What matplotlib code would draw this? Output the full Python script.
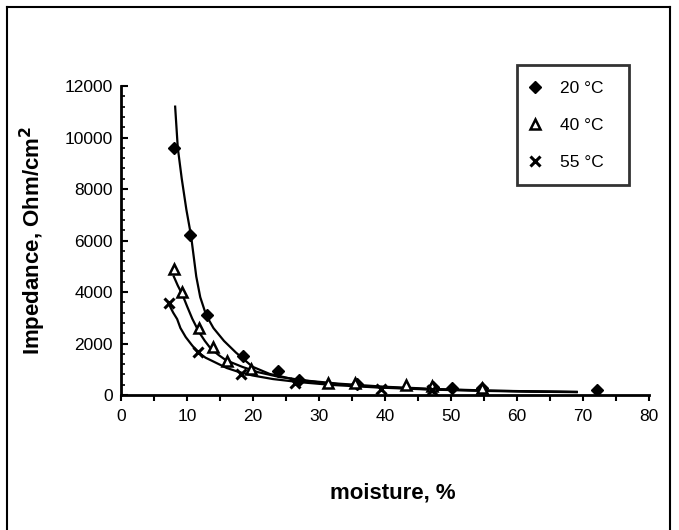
import matplotlib
matplotlib.use('Agg')
import matplotlib.pyplot as plt
from matplotlib.lines import Line2D

plt.rcParams['font.family'] = ['Liberation Sans', 'DejaVu Sans']

# measured points
x20 = [8.0, 10.5, 13.0, 18.5, 23.8, 27.0, 35.8, 47.3, 50.2, 54.7, 72.1]
y20 = [9600, 6220, 3100, 1520, 930, 600, 420, 330, 280, 270, 190]
x40 = [8.0, 9.3, 11.8, 13.9, 16.1, 19.7, 31.4, 35.4, 43.2, 47.1, 54.7]
y40 = [4880, 4010, 2620, 1860, 1330, 1020, 480, 470, 400, 340, 290]
x55 = [7.3, 11.6, 18.2, 26.4, 39.3, 47.1]
y55 = [3580, 1680, 820, 470, 250, 190]

# fitted curves
cx20 = [8.2, 8.6, 9.2, 9.9, 10.6, 11.0, 11.4, 12.0, 12.9, 14.0, 15.6, 17.4, 19.9,
        22.5, 26, 31, 38, 46, 55, 62, 69]
cy20 = [11200, 9600, 8400, 7200, 6200, 5400, 4600, 3800, 3100, 2600, 2100, 1650, 1100,
        820, 620, 460, 320, 230, 170, 140, 120]
cx40 = [8.0, 8.6, 9.3, 10.0, 10.8, 11.8, 12.7, 13.6, 14.8, 15.9, 18.4, 20.7, 24, 28,
        33, 40, 48, 56, 63, 69]
cy40 = [4600, 4250, 3900, 3450, 2960, 2450, 2100, 1800, 1550, 1350, 1090, 890, 700, 560,
        440, 320, 230, 170, 140, 120]
cx55 = [7.3, 7.9, 8.5, 9.0, 9.8, 10.7, 11.6, 12.8, 14.4, 16.0, 17.9, 19.9, 23, 27, 32,
        39, 47, 55, 62, 69]
cy55 = [3500, 3200, 2950, 2600, 2250, 1950, 1670, 1450, 1250, 1050, 890, 760, 620, 500,
        390, 290, 210, 160, 130, 110]

labels = ['20 \u00b0C  ', '40 \u00b0C  ', '55 \u00b0C  ']

fig = plt.figure(figsize=(6.79, 5.30), dpi=100)
ax = fig.add_axes([0.1782, 0.2547, 0.778, 0.5830])

for cx, cy in [(cx20, cy20), (cx40, cy40), (cx55, cy55)]:
    ax.plot(cx, cy, color='black', lw=1.6, zorder=2)

ax.plot(x20, y20, linestyle='none', marker='D', ms=6, mfc='black', mec='black',
        label=labels[0], zorder=3)
ax.plot(x40, y40, linestyle='none', marker='^', ms=7, mfc='white', mec='black',
        mew=1.8, label=labels[1], zorder=3)
ax.plot(x55, y55, linestyle='none', marker='x', ms=7, mec='black', mew=2.2,
        label=labels[2], zorder=3)

ax.set_xlim(0, 80)
ax.set_ylim(0, 12000)
ax.set_xticks(range(0, 81, 10))
ax.set_xticks(range(0, 81, 5), minor=True)
ax.set_yticks(range(0, 12001, 2000))
ax.set_yticks(range(0, 12001, 400), minor=True)
ax.tick_params(axis='x', which='both', direction='out', length=4, width=1.5,
               labelsize=12.5, pad=6)
ax.tick_params(axis='y', which='major', direction='in', length=5, width=1.5,
               labelsize=12.5, pad=6)
ax.tick_params(axis='y', which='minor', direction='in', length=3, width=1.2)

for s in ['top', 'right']:
    ax.spines[s].set_visible(False)
for s in ['left', 'bottom']:
    ax.spines[s].set_linewidth(2)

ax.set_ylabel('Impedance, Ohm/cm$^\\mathbf{2}$', fontsize=16, fontweight='bold',
              labelpad=12)
fig.text(0.579, 0.070, 'moisture, %', fontsize=16, fontweight='bold',
         ha='center', va='center')

leg = ax.legend(loc='upper left', bbox_to_anchor=(0.761, 0.877),
                bbox_transform=fig.transFigure, fontsize=12.5, frameon=True,
                fancybox=False, edgecolor='black', labelspacing=1.25,
                handlelength=0.3, handletextpad=1.3, borderpad=0.9,
                borderaxespad=0)
leg.get_frame().set_linewidth(2)

# scanned page frame
for xs, ys in [([0.011, 0.011], [0, 0.986]), ([0.011, 0.987], [0.986, 0.986]),
               ([0.987, 0.987], [0, 0.986])]:
    fig.add_artist(Line2D(xs, ys, color='black', lw=1.5, transform=fig.transFigure))

plt.savefig('out.png', dpi=100)
